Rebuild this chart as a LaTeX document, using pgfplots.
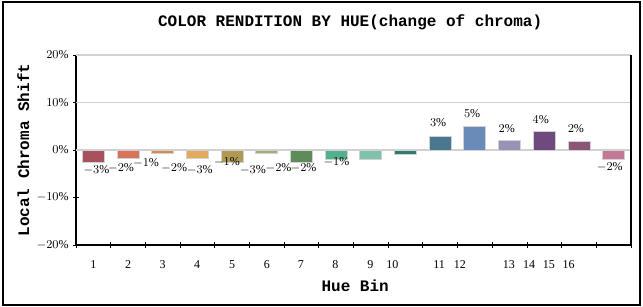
\documentclass[border=0pt]{standalone}
\usepackage{pgfplots}
\pgfplotsset{compat=1.18}
\usepackage{fontspec}
\setmainfont{Liberation Serif}
\newfontfamily\monob{Liberation Mono}[BoldFont={Liberation Mono Bold}]
\definecolor{c1}{HTML}{A8505E}
\definecolor{c2}{HTML}{D8735A}
\definecolor{c3}{HTML}{D98848}
\definecolor{c4}{HTML}{E3AA5E}
\definecolor{c5}{HTML}{B09A52}
\definecolor{c6}{HTML}{A2AC78}
\definecolor{c7}{HTML}{5E8C58}
\definecolor{c8}{HTML}{52B08C}
\definecolor{c9}{HTML}{7EC2AA}
\definecolor{c10}{HTML}{2F7A70}
\definecolor{c11}{HTML}{48788F}
\definecolor{c12}{HTML}{6A8AB8}
\definecolor{c13}{HTML}{9A92B6}
\definecolor{c14}{HTML}{6E4A7E}
\definecolor{c15}{HTML}{8E5478}
\definecolor{c16}{HTML}{C27896}
\begin{document}
\begin{tikzpicture}[x=0.75pt,y=0.75pt]
\useasboundingbox (0,0) rectangle (643,307);
\draw[line width=0.9pt] (3,2) rectangle (640,305);
\begin{axis}[
  at={(57pt,46.5pt)}, anchor=south west,
  width=416.25pt, height=142.5pt, scale only axis,
  xmin=0.5, xmax=16.5, ymin=-20, ymax=20,
  axis x line*=bottom, axis y line*=left,
  axis line style={-, line width=0.8pt},
  xtick={0.5,1.5,...,16.5}, xticklabels={},
  extra x ticks={1,2,3,3.99,5,6,6.98,7.98,8.99,9.62,10.97,11.57,12.98,13.56,14.13,14.7},
  extra x tick labels={1,2,3,4,5,6,7,8,9,10,11,12,13,14,15,16},
  extra x tick style={major tick length=0pt, grid=none},
  xtick pos=lower, ytick pos=left,
  ytick={-20,-10,0,10,20},
  yticklabel={$\pgfmathprintnumber{\tick}\%$},
  tick align=center, major tick length=4pt,
  tick style={black, line width=0.6pt},
  ticklabel style={font=\fontsize{9}{10}\selectfont},
  xticklabel style={anchor=base, yshift=-18pt},
  title={\monob\bfseries COLOR RENDITION BY HUE(change of chroma)},
  title style={at={(rel axis cs:0.494,1.132)}, anchor=center, font=\fontsize{12}{14}\selectfont},
  xlabel={\monob\bfseries Hue Bin},
  xlabel style={at={(rel axis cs:0.503,-0.216)}, anchor=center, font=\fontsize{12}{14}\selectfont},
  ylabel={\monob\bfseries Local Chroma Shift},
  ylabel style={at={(rel axis cs:-0.095,0.5)}, anchor=center, rotate=0, font=\fontsize{12}{14}\selectfont},
  clip=false,
]
\draw[black!18, line width=1pt] (axis cs:0.5,20) -- (axis cs:16.5,20);
\draw[black!18, line width=1pt] (axis cs:0.5,10) -- (axis cs:16.5,10);
\draw[black!18, line width=1pt] (axis cs:0.5,0) -- (axis cs:16.5,0);
\draw[black, line width=0.8pt] (rel axis cs:1,0) -- (rel axis cs:1,1);
\pgfplotsset{bb/.style={ybar, bar width=16.5pt, bar shift=0pt, draw=black!18, line width=0.7pt, fill=#1}}
\addplot[bb=c1] coordinates {(1,-2.6)};
\addplot[bb=c2] coordinates {(2,-1.7)};
\addplot[bb=c3] coordinates {(3,-0.8)};
\addplot[bb=c4] coordinates {(4,-1.8)};
\addplot[bb=c5] coordinates {(5,-2.6)};
\addplot[bb=c6] coordinates {(6,-0.8)};
\addplot[bb=c7] coordinates {(7,-2.6)};
\addplot[bb=c8] coordinates {(8,-2.0)};
\addplot[bb=c9] coordinates {(9,-2.0)};
\addplot[bb=c10] coordinates {(10,-0.9)};
\addplot[bb=c11] coordinates {(11,2.9)};
\addplot[bb=c12] coordinates {(12,4.9)};
\addplot[bb=c13] coordinates {(13,2.0)};
\addplot[bb=c14] coordinates {(14,3.8)};
\addplot[bb=c15] coordinates {(15,1.9)};
\addplot[bb=c16] coordinates {(16,-2.0)};
\addplot[draw=none, mark=none, point meta=explicit symbolic,
  nodes near coords={$\pgfplotspointmeta\%$},
  every node near coord/.style={anchor=center, font=\fontsize{9}{10}\selectfont}]
  table[meta=v] {
x y v
1.09 -4.3 -3
1.80 -3.85 -2
2.52 -2.8 -1
3.33 -3.85 -2
4.07 -4.3 -3
4.85 -2.6 -1
5.60 -4.3 -3
6.34 -3.85 -2
7.06 -3.85 -2
8.01 -2.6 -1
10.94 5.7 3
11.92 7.6 5
12.92 4.5 2
13.90 6.4 4
14.91 4.5 2
15.89 -3.65 -2
};
\end{axis}
\end{tikzpicture}
\end{document}
